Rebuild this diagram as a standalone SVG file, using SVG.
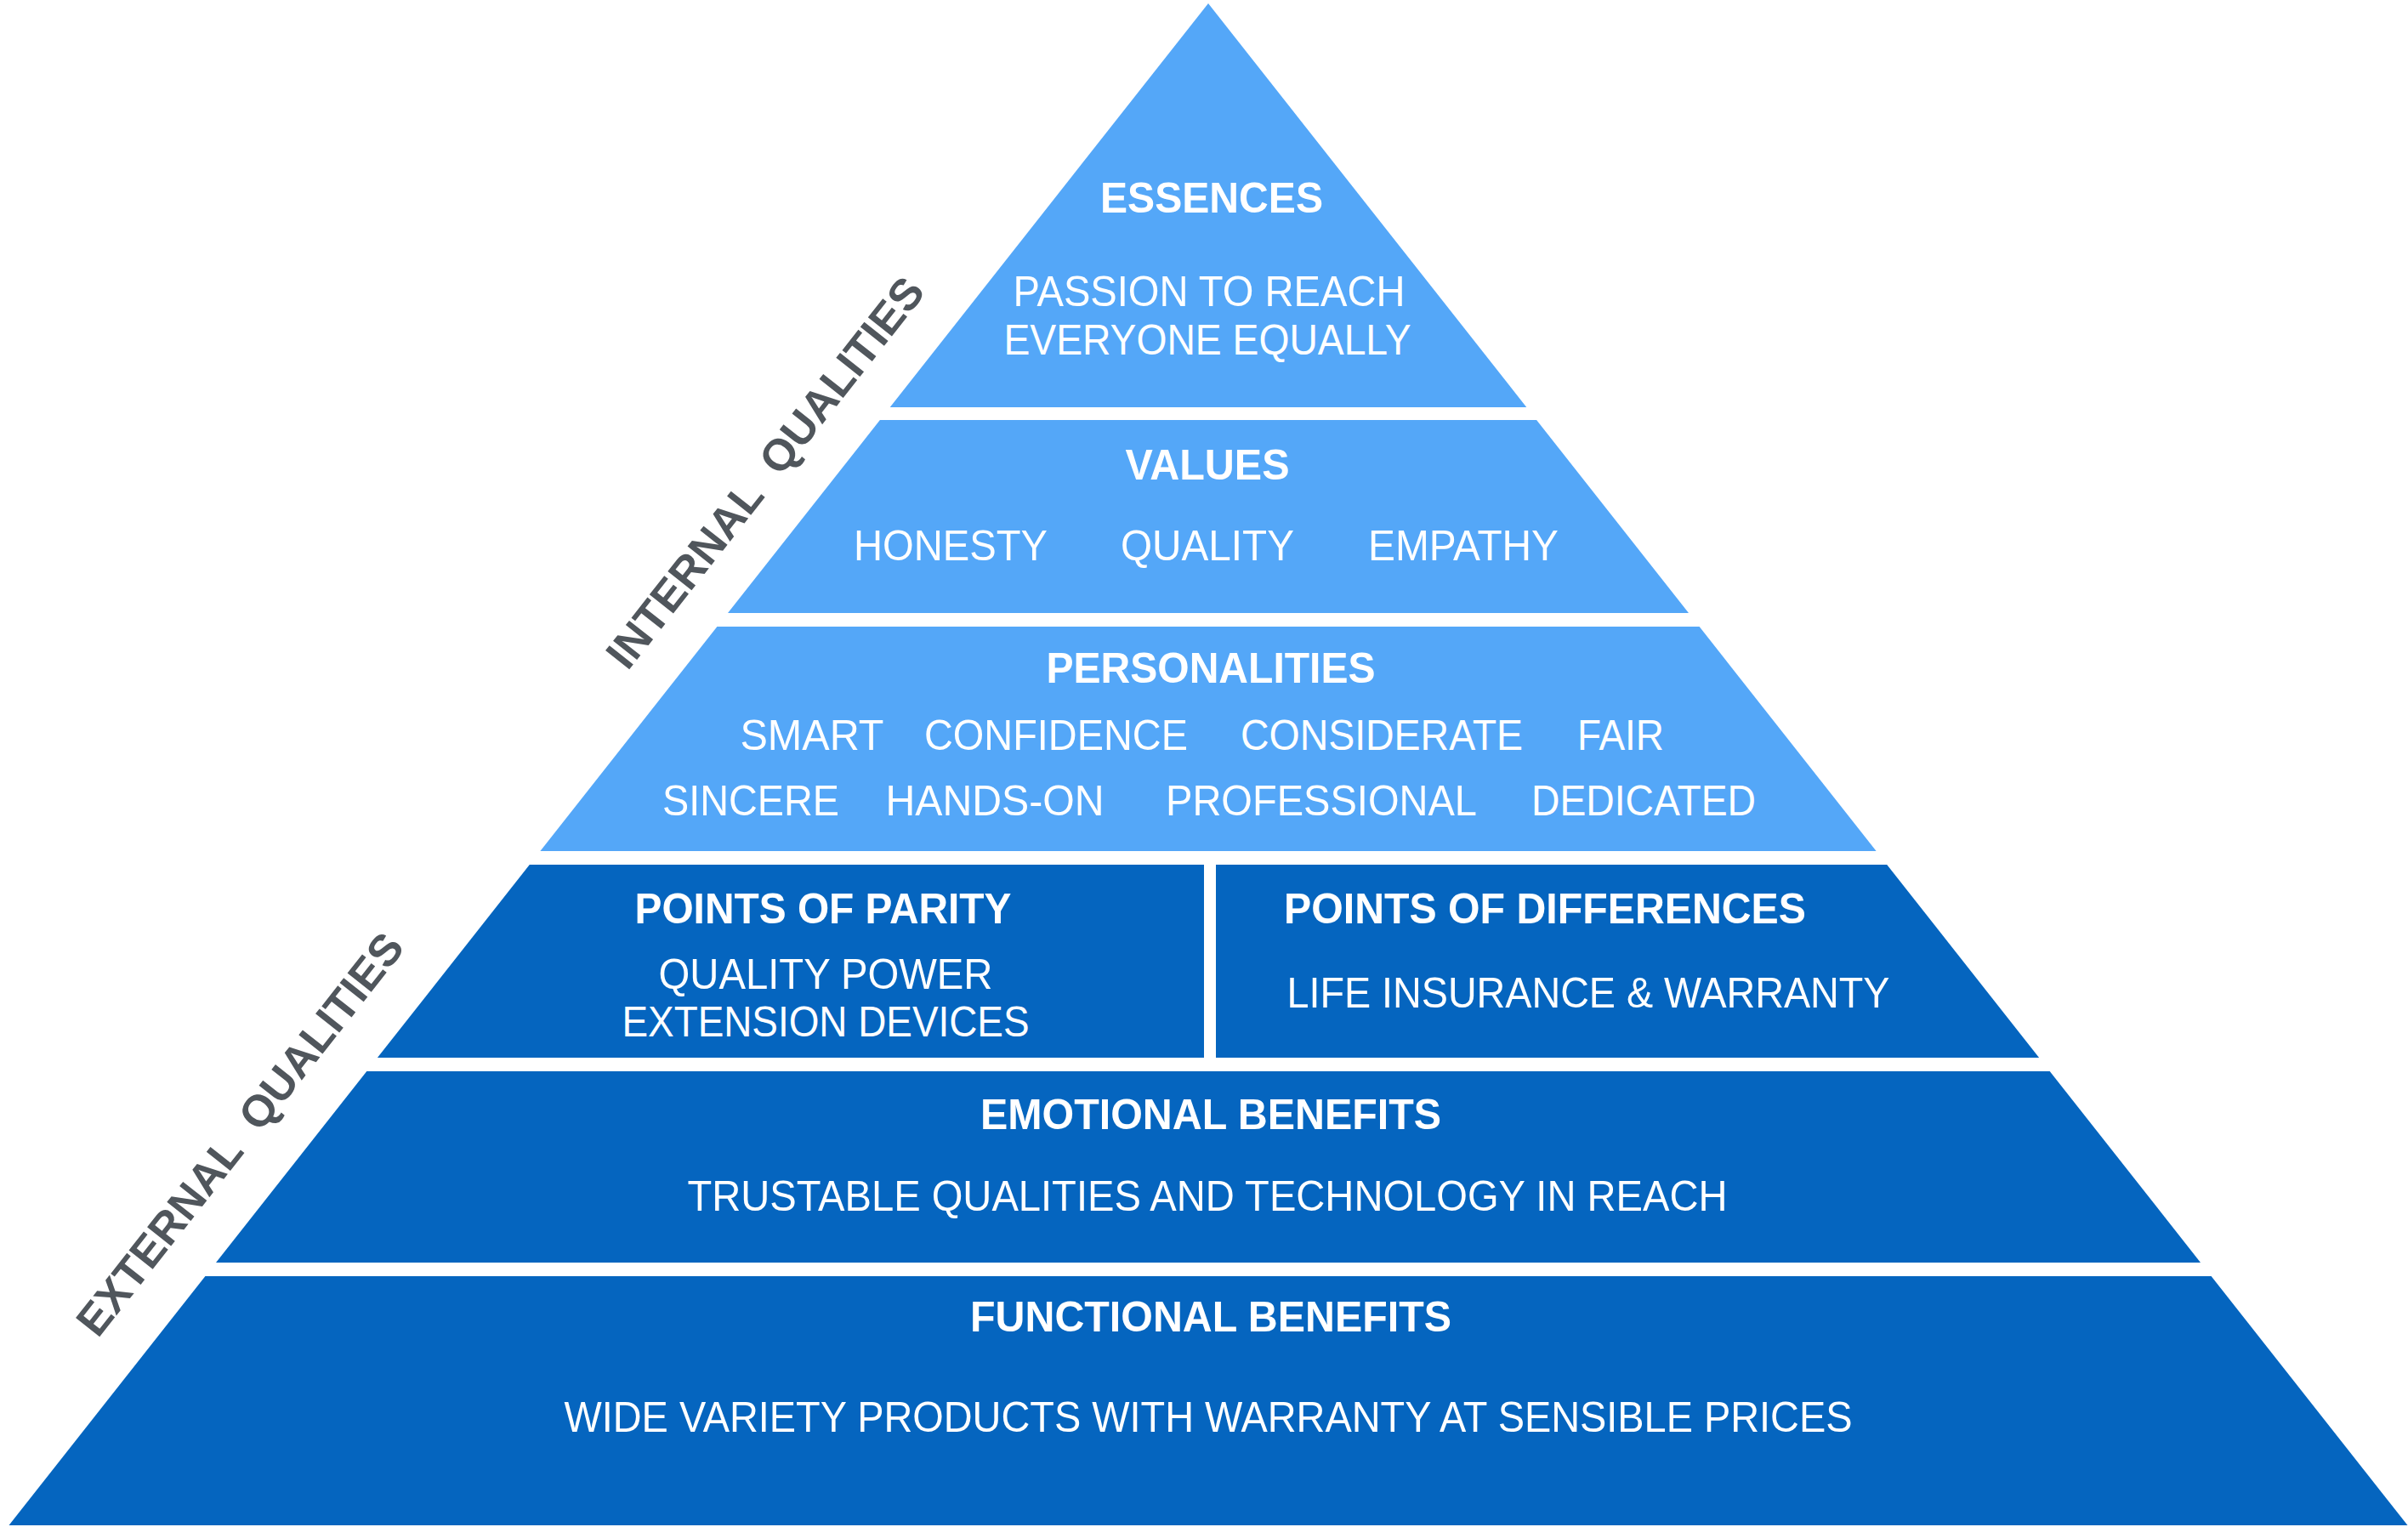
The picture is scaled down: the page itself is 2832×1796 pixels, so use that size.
<svg xmlns="http://www.w3.org/2000/svg" width="2832" height="1796" viewBox="0 0 2832 1796">
<style>
.light{fill:#54A7F8}
.dark{fill:#0565BF}
.t{font-family:"Liberation Sans",Arial,Helvetica,sans-serif;fill:#ffffff;text-anchor:middle;font-size:49.5px}
.b{font-weight:bold;font-size:49.5px}
.side{font-family:"Liberation Sans",Arial,Helvetica,sans-serif;font-weight:bold;font-size:52px;fill:#50565C;white-space:pre}
</style>
<rect x="0" y="0" width="2832" height="1796" fill="#ffffff"/>

<g id="essences">
<polygon class="light" points="1421,4 1795.3,479 1046.7,479"/>
<text class="t b" x="1425" y="249.5" textLength="262" lengthAdjust="spacingAndGlyphs">ESSENCES</text>
<text class="t" x="1422" y="359.5" textLength="461" lengthAdjust="spacingAndGlyphs">PASSION TO REACH</text>
<text class="t" x="1420" y="417" textLength="479" lengthAdjust="spacingAndGlyphs">EVERYONE EQUALLY</text>
</g>

<g id="values">
<polygon class="light" points="1034.9,494 1807.1,494 1986,721 856,721"/>
<text class="t b" x="1420" y="564" textLength="193" lengthAdjust="spacingAndGlyphs">VALUES</text>
<text class="t" x="1118" y="659" textLength="228" lengthAdjust="spacingAndGlyphs">HONESTY</text>
<text class="t" x="1420" y="659" textLength="204" lengthAdjust="spacingAndGlyphs">QUALITY</text>
<text class="t" x="1721" y="659" textLength="224" lengthAdjust="spacingAndGlyphs">EMPATHY</text>
</g>

<g id="personalities">
<polygon class="light" points="843.4,737 1998.6,737 2206.6,1001 635.4,1001"/>
<text class="t b" x="1424" y="802.5" textLength="387" lengthAdjust="spacingAndGlyphs">PERSONALITIES</text>
<text class="t" x="955" y="882" textLength="169" lengthAdjust="spacingAndGlyphs">SMART</text>
<text class="t" x="1242" y="882" textLength="310" lengthAdjust="spacingAndGlyphs">CONFIDENCE</text>
<text class="t" x="1625" y="882" textLength="332" lengthAdjust="spacingAndGlyphs">CONSIDERATE</text>
<text class="t" x="1906" y="882" textLength="102" lengthAdjust="spacingAndGlyphs">FAIR</text>
<text class="t" x="883" y="958.5" textLength="208" lengthAdjust="spacingAndGlyphs">SINCERE</text>
<text class="t" x="1170" y="958.5" textLength="257" lengthAdjust="spacingAndGlyphs">HANDS-ON</text>
<text class="t" x="1554" y="958.5" textLength="366" lengthAdjust="spacingAndGlyphs">PROFESSIONAL</text>
<text class="t" x="1933" y="958.5" textLength="264" lengthAdjust="spacingAndGlyphs">DEDICATED</text>
</g>

<g id="points-of-parity">
<polygon class="dark" points="622.8,1017 1416,1017 1416,1244 443.9,1244"/>
<text class="t b" x="968" y="1085.5" textLength="443" lengthAdjust="spacingAndGlyphs">POINTS OF PARITY</text>
<text class="t" x="971" y="1162.5" textLength="393" lengthAdjust="spacingAndGlyphs">QUALITY POWER</text>
<text class="t" x="971" y="1219" textLength="479" lengthAdjust="spacingAndGlyphs">EXTENSION DEVICES</text>
</g>

<g id="points-of-differences">
<polygon class="dark" points="1430,1017 2219.2,1017 2398.1,1244 1430,1244"/>
<text class="t b" x="1817" y="1085.5" textLength="614" lengthAdjust="spacingAndGlyphs">POINTS OF DIFFERENCES</text>
<text class="t" x="1868" y="1184.5" textLength="709" lengthAdjust="spacingAndGlyphs">LIFE INSURANCE &amp; WARRANTY</text>
</g>

<g id="emotional-benefits">
<polygon class="dark" points="431.3,1260 2410.7,1260 2588,1485 254,1485"/>
<text class="t b" x="1424" y="1328" textLength="542" lengthAdjust="spacingAndGlyphs">EMOTIONAL BENEFITS</text>
<text class="t" x="1420" y="1424" textLength="1223" lengthAdjust="spacingAndGlyphs">TRUSTABLE QUALITIES AND TECHNOLOGY IN REACH</text>
</g>

<g id="functional-benefits">
<polygon class="dark" points="241.4,1501 2600.6,1501 2831.5,1794 10.5,1794"/>
<text class="t b" x="1424" y="1566" textLength="566" lengthAdjust="spacingAndGlyphs">FUNCTIONAL BENEFITS</text>
<text class="t" x="1421" y="1684" textLength="1515" lengthAdjust="spacingAndGlyphs">WIDE VARIETY PRODUCTS WITH WARRANTY AT SENSIBLE PRICES</text>
</g>

<g id="internal-qualities">
<text class="side" xml:space="preserve" transform="translate(738,790) rotate(-51.76)" x="0" y="0">INTERNAL  QUALITIES</text>
</g>

<g id="external-qualities">
<text class="side" xml:space="preserve" transform="translate(115,1575) rotate(-51.76)" x="0" y="0">EXTERNAL  QUALITIES</text>
</g>
</svg>
